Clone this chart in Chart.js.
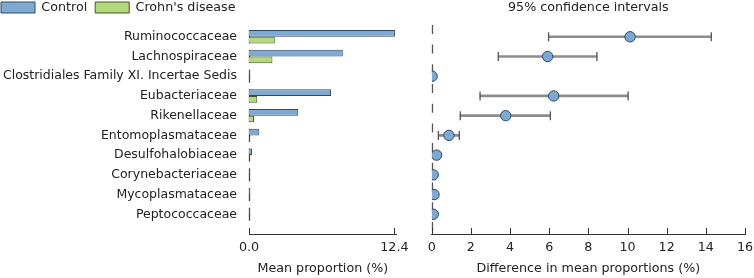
<!DOCTYPE html>
<html>
<head>
<meta charset="utf-8">
<script src="https://cdn.jsdelivr.net/npm/chart.js@4/dist/chart.umd.min.js"></script>
<style>
  body { margin: 0; background: #fff; }
  #wrap { position: relative; width: 754px; height: 278px; }
  #left { position: absolute; left: 0; top: 0; }
  #right { position: absolute; left: 410px; top: 0; }
</style>
</head>
<body>
<div id="wrap">
  <canvas id="left" width="410" height="278"></canvas>
  <canvas id="right" width="344" height="278"></canvas>
</div>
<script>
// семейства бактерий и значения
const families = ['Ruminococcaceae', 'Lachnospiraceae', 'Clostridiales Family XI. Incertae Sedis',
    'Eubacteriaceae', 'Rikenellaceae', 'Entomoplasmataceae', 'Desulfohalobiaceae',
    'Corynebacteriaceae', 'Mycoplasmataceae', 'Peptococcaceae'];
const controlMean = [12.45, 8.0, 0.06, 7.0, 4.2, 0.88, 0.26, 0.05, 0.08, 0.05];
const crohnMean = [2.2, 2.0, 0.02, 0.7, 0.43, 0.02, 0.01, 0.01, 0.01, 0.01];
const diffMean = [10.13, 5.92, 0.02, 6.23, 3.78, 0.88, 0.25, 0.08, 0.12, 0.08];
const ciLow = [5.97, 3.40, null, 2.47, 1.46, 0.34, null, null, null, null];
const ciHigh = [14.28, 8.44, null, 10.03, 6.06, 1.41, null, null, null, null];
const leftTicks = [0, 12.4];
const rightTicks = [0, 2, 4, 6, 8, 10, 12, 14, 16];

Chart.defaults.font.family = 'DejaVu Sans';
Chart.defaults.font.size = 12.7;
Chart.defaults.color = '#222';

const rowIdx = families.map((_, i) => i);
const AREA_TOP = 26.9;

// засечки оси X внутрь графика
const innerTicks = {
    id: 'innerTicks',
    afterDraw(chart) {
        const sx = chart.scales.x;
        const b = chart.chartArea.bottom;
        const c = chart.ctx;
        c.save();
        c.strokeStyle = '#333';
        c.lineWidth = 1;
        sx.ticks.forEach(t => {
            const px = Math.round(sx.getPixelForValue(t.value)) + 0.5;
            c.beginPath();
            c.moveTo(px, b - 6);
            c.lineTo(px, b);
            c.stroke();
        });
        c.restore();
    }
};

// пунктир у нуля (на левом графике по строкам, на правом сплошной пунктир)
const zeroLeft = {
    id: 'zeroLeft',
    beforeDatasetsDraw(chart) {
        const x = Math.round(chart.scales.x.getPixelForValue(0)) + 0.5;
        const y = chart.scales.y;
        const c = chart.ctx;
        c.save();
        c.strokeStyle = '#444';
        c.lineWidth = 1.3;
        rowIdx.forEach(i => {
            const yc = y.getPixelForValue(i);
            c.beginPath();
            c.moveTo(x, yc - 6.5);
            c.lineTo(x, yc + 6.5);
            c.stroke();
        });
        c.restore();
    }
};
const zeroRight = {
    id: 'zeroRight',
    beforeDatasetsDraw(chart) {
        const x = Math.round(chart.scales.x.getPixelForValue(0)) + 0.5;
        const a = chart.chartArea;
        const c = chart.ctx;
        c.save();
        c.strokeStyle = '#555';
        c.lineWidth = 1.3;
        c.setLineDash([9, 10.7]);
        c.beginPath();
        c.moveTo(x, a.top - 2);
        c.lineTo(x, a.bottom);
        c.stroke();
        c.restore();
    },
    // точки у нуля обрезаются по краю области (как полукруги на оригинале)
    beforeDatasetDraw(chart, args) {
        if (args.index !== 0) return;
        const a = chart.chartArea;
        chart.ctx.save();
        chart.ctx.beginPath();
        chart.ctx.rect(a.left, a.top - 10, a.right - a.left, a.bottom - a.top + 10);
        chart.ctx.clip();
    },
    afterDatasetDraw(chart, args) {
        if (args.index === 0) chart.ctx.restore();
    }
};

const yIndexScale = () => ({
    type: 'linear',
    min: -0.5,
    max: 10,
    reverse: true,
    offset: false,
    afterBuildTicks: s => { s.ticks = rowIdx.map(v => ({ value: v })); },
});

const xAxisCommon = (ticksArr) => ({
    type: 'linear',
    min: 0,
    afterBuildTicks: s => { s.ticks = ticksArr.map(v => ({ value: v })); },
    afterFit: s => { s.height = 44; s.paddingLeft = 0; s.paddingRight = 0; },
    grid: { display: false, drawTicks: false },
    border: { display: true, color: '#333', width: 1 },
});

new Chart(document.getElementById('left'), {
    type: 'bar',
    data: {
        datasets: [{
            label: 'Control',
            data: rowIdx.map(i => ({ y: i, x: controlMean[i] })),
            backgroundColor: '#7ea9d2',
            borderColor: '#2f4a66',
            borderWidth: 1,
            categoryPercentage: 0.68,
            barPercentage: 1
        }, {
            label: "Crohn's disease",
            data: rowIdx.map(i => ({ y: i, x: crohnMean[i] })),
            backgroundColor: '#b4d97a',
            borderColor: '#3f5a22',
            borderWidth: 1,
            categoryPercentage: 0.68,
            barPercentage: 1
        }]
    },
    options: {
        indexAxis: 'y',
        animation: false,
        responsive: false,
        layout: { padding: { left: -7, right: 13.3, top: -6.85, bottom: 0 } },
        plugins: {
            legend: {
                position: 'top',
                align: 'start',
                labels: { boxWidth: 34, boxHeight: 11, padding: 8, color: '#222' }
            },
            // пустой заголовок как отступ между легендой и графиком
            title: {
                display: true,
                text: '',
                weight: 500,
                font: { size: 1 },
                padding: { top: 0, bottom: 1.85 }
            },
            tooltip: { enabled: false }
        },
        scales: {
            x: Object.assign(xAxisCommon(leftTicks), {
                max: 12.6,
                ticks: { callback: v => v.toFixed(1), padding: 6, maxRotation: 0 },
                title: { display: true, text: 'Mean proportion (%)', padding: { top: 0, bottom: 2 } }
            }),
            y: Object.assign(yIndexScale(), {
                afterFit: s => { s.width = 256; s.paddingTop = AREA_TOP; s.paddingBottom = 0; },
                ticks: { callback: v => families[v], padding: 12, autoSkip: false, font: { size: 12.5 } },
                grid: { display: false, drawTicks: false },
                border: { display: false }
            })
        }
    },
    plugins: [zeroLeft, innerTicks]
});

new Chart(document.getElementById('right'), {
    type: 'scatter',
    data: {
        datasets: [{
            // точки разности средних
            label: 'Difference',
            data: rowIdx.map(i => ({ x: diffMean[i], y: i })),
            pointStyle: 'circle',
            pointRadius: 5.2,
            backgroundColor: '#7ea9d2',
            borderColor: '#2f4a66',
            borderWidth: 1,
            order: 0
        }, {
            // засечки на концах интервалов
            label: 'CI ends',
            data: rowIdx.filter(i => ciLow[i] !== null)
                .flatMap(i => [{ x: ciLow[i], y: i }, { x: ciHigh[i], y: i }]),
            pointStyle: 'line',
            rotation: 90,
            pointRadius: 4.5,
            borderColor: '#555',
            borderWidth: 1.3,
            order: 2
        }, {
            // сами интервалы
            type: 'bar',
            label: 'CI',
            indexAxis: 'y',
            data: rowIdx.filter(i => ciLow[i] !== null)
                .map(i => ({ y: i, x: [ciLow[i], ciHigh[i]] })),
            backgroundColor: '#8c8c8c',
            borderWidth: 0,
            barThickness: 2,
            order: 3
        }]
    },
    options: {
        animation: false,
        responsive: false,
        layout: { padding: { left: 21.7, right: 9, top: 0, bottom: 0 } },
        plugins: {
            legend: { display: false },
            tooltip: { enabled: false },
            title: {
                display: true,
                text: '95% confidence intervals',
                font: { weight: 'normal' },
                color: '#222',
                padding: { top: 0.4, bottom: 11.2 }
            }
        },
        scales: {
            x: Object.assign(xAxisCommon(rightTicks), {
                max: 16,
                ticks: { padding: 6, maxRotation: 0 },
                title: { display: true, text: 'Difference in mean proportions (%)', padding: { top: 0, bottom: 2 } }
            }),
            y: Object.assign(yIndexScale(), {
                display: true,
                afterFit: s => { s.width = 0; s.paddingTop = AREA_TOP; s.paddingBottom = 0; },
                ticks: { display: false },
                grid: { display: false, drawTicks: false },
                border: { display: false }
            })
        }
    },
    plugins: [zeroRight, innerTicks]
});
</script>
</body>
</html>
